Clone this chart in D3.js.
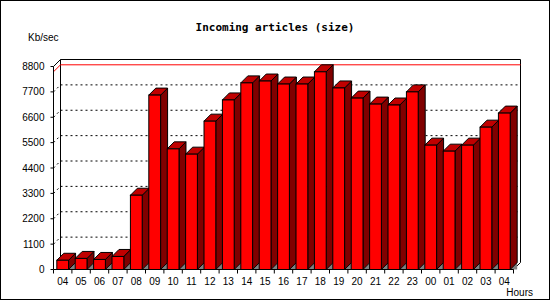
<!DOCTYPE html>
<html>
<head>
<meta charset="utf-8">
<script src="https://cdn.jsdelivr.net/npm/d3@7"></script>
<style>
  body { margin: 0; background: #fff; }
  svg { display: block; }
  text { font-family: "Liberation Sans", Arial, sans-serif; font-size: 10px; fill: #000; }
</style>
</head>
<body>
<svg id="chart" width="550" height="300"></svg>
<script>
// 数据
const hours = ['04', '05', '06', '07', '08', '09', '10', '11', '12', '13', '14', '15', '16',
               '17', '18', '19', '20', '21', '22', '23', '00', '01', '02', '03', '04'];
const kbPerSec = [400, 480, 435, 565, 3220, 7560, 5230, 5000, 6430, 7350, 8090, 8170, 8040,
                  8040, 8570, 7870, 7430, 7170, 7130, 7700, 5390, 5130, 5390, 6170, 6780];
const yTicks = [0, 1100, 2200, 3300, 4400, 5500, 6600, 7700, 8800];

const svg = d3.select('#chart');
const W = 550, H = 300;
const depth = 7;
const plot = { left: 53.5, right: 513.5, bottom: 269.5, top: 66.5 };

// 每个类别用 index 作为 key（两个 '04'）
const x = d3.scaleBand()
    .domain(d3.range(hours.length))
    .range([plot.left, plot.right])
    .paddingInner(0.36)
    .paddingOuter(0.18);

const y = d3.scaleLinear()
    .domain([0, 8800])
    .range([plot.bottom, plot.top]);

// 外框
svg.append('rect')
    .attr('x', 0.5).attr('y', 0.5)
    .attr('width', W - 1).attr('height', H - 1)
    .attr('fill', '#fff').attr('stroke', '#000');

// 标题
svg.append('text')
    .attr('x', 275).attr('y', 31)
    .attr('text-anchor', 'middle')
    .style('font-family', '"DejaVu Sans Mono", monospace')
    .style('font-weight', 'bold')
    .style('font-size', '11px')
    .text('Incoming articles (size)');

svg.append('text')
    .attr('x', 28).attr('y', 41)
    .text('Kb/sec');

const L = plot.left, R = plot.right, B = plot.bottom;

// 网格（背板 + 左墙虚线）
const grid = svg.append('g');
yTicks.slice(1, -1).forEach(v => {
    grid.append('line')
        .attr('x1', L + depth).attr('x2', R + depth)
        .attr('y1', y(v) - depth).attr('y2', y(v) - depth)
        .attr('stroke', '#000').attr('stroke-dasharray', '2,3');
    grid.append('line')
        .attr('x1', L).attr('x2', L + depth)
        .attr('y1', y(v)).attr('y2', y(v) - depth)
        .attr('stroke', '#000').attr('stroke-dasharray', '2,3');
});

// 背板边框
const yTop = y(8800);
svg.append('path')
    .attr('d', `M${L},${yTop} L${L + depth},${yTop - depth} L${R + depth},${yTop - depth}
                L${R + depth},${B - depth} L${R},${B}`)
    .attr('fill', 'none').attr('stroke', '#000');
svg.append('line')
    .attr('x1', L + depth).attr('x2', L + depth)
    .attr('y1', yTop - depth).attr('y2', B - depth)
    .attr('stroke', '#000');

// 最大值线
const maxV = d3.max(kbPerSec);
svg.append('path')
    .attr('d', `M${L},${y(maxV)} L${L + depth},${y(maxV) - depth} L${R + depth},${y(maxV) - depth}`)
    .attr('fill', 'none').attr('stroke', '#ff0000');

// 柱子
const bars = svg.append('g').selectAll('g.bar')
    .data(kbPerSec)
    .join('g')
    .attr('class', 'bar');

bars.each(function (v, i) {
    const g = d3.select(this);
    const x0 = x(i), x1 = x(i) + x.bandwidth();
    const yv = y(v);

    // 阴影
    g.append('path')
        .attr('d', `M${x1},${B} L${x1 + depth},${B - depth} L${x1 + depth},${B} Z`)
        .attr('fill', '#808080').attr('stroke', 'none');
    // 侧面
    g.append('path')
        .attr('d', `M${x1},${yv} L${x1 + depth},${yv - depth} L${x1 + depth},${B - depth} L${x1},${B} Z`)
        .attr('fill', '#800000').attr('stroke', '#000');
    // 顶面
    g.append('path')
        .attr('d', `M${x0},${yv} L${x0 + depth},${yv - depth} L${x1 + depth},${yv - depth} L${x1},${yv} Z`)
        .attr('fill', '#c00000').attr('stroke', '#000');
    // 正面
    g.append('rect')
        .attr('x', x0).attr('y', yv)
        .attr('width', x.bandwidth()).attr('height', B - yv)
        .attr('fill', '#ff0000').attr('stroke', '#000');
});

// Y 轴
const yAxis = svg.append('g');
yAxis.append('line')
    .attr('x1', L).attr('x2', L)
    .attr('y1', yTop).attr('y2', B)
    .attr('stroke', '#000');
yTicks.forEach(v => {
    yAxis.append('line')
        .attr('x1', L - 3).attr('x2', L)
        .attr('y1', y(v)).attr('y2', y(v))
        .attr('stroke', '#000');
    yAxis.append('text')
        .attr('x', L - 9).attr('y', y(v) + 3.5)
        .attr('text-anchor', 'end')
        .text(v);
});

// X 轴
const xAxis = svg.append('g');
xAxis.append('line')
    .attr('x1', L).attr('x2', R)
    .attr('y1', B).attr('y2', B)
    .attr('stroke', '#000');
d3.range(hours.length + 1).forEach(i => {
    const tx = L + i * x.step();
    xAxis.append('line')
        .attr('x1', tx).attr('x2', tx)
        .attr('y1', B).attr('y2', B + 4)
        .attr('stroke', '#000');
});
hours.forEach((h, i) => {
    xAxis.append('text')
        .attr('x', x(i) + x.bandwidth() / 2)
        .attr('y', B + 15)
        .attr('text-anchor', 'middle')
        .text(h);
});

svg.append('text')
    .attr('x', 533).attr('y', 296)
    .attr('text-anchor', 'end')
    .text('Hours');
</script>
</body>
</html>
